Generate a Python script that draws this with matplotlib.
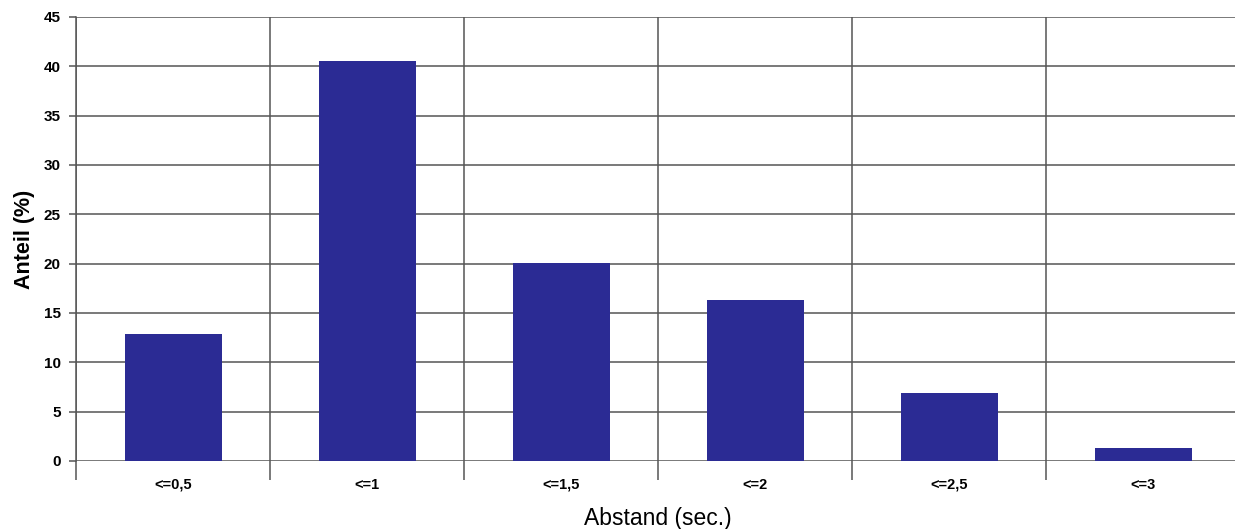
import numpy as np
import matplotlib.pyplot as plt

# Anteil je Abstandsklasse
categories = ["<=0,5", "<=1", "<=1,5", "<=2", "<=2,5", "<=3"]
anteil = [12.9, 40.5, 20.1, 16.3, 6.9, 1.3]
yticks = [0, 5, 10, 15, 20, 25, 30, 35, 40, 45]

plt.rcParams['font.family'] = ['Liberation Sans', 'DejaVu Sans']

fig = plt.figure(figsize=(12.35, 5.29), dpi=100)
ax = fig.add_axes([76 / 1235, 68 / 529, 1164 / 1235, 444 / 529])

x = np.arange(len(categories))
ax.bar(x, anteil, width=0.5, color="#2b2b94", zorder=3)

ax.set_xlim(-0.5, len(categories) - 0.5)
ax.set_ylim(0, 45)
ax.set_yticks(yticks)

# Gitter: horizontale Linien je 5 %, vertikale an den Klassengrenzen
ax.set_xticks(x)
ax.set_xticklabels(categories, fontsize=10.5, fontweight="bold")
ax.set_xticks(np.arange(len(categories) + 1) - 0.5, minor=True)
ax.tick_params(axis="x", which="major", length=0, pad=12)
ax.tick_params(axis="x", which="minor", length=14, width=1.1, color="#555555")
ax.tick_params(axis="y", length=5, width=1.1, color="#555555", pad=6, labelsize=11)
for lab in ax.get_yticklabels():
    lab.set_fontweight("bold")

ax.grid(True, axis="y", which="major", color="#555555", linewidth=1.1, zorder=1)
ax.grid(True, axis="x", which="minor", color="#555555", linewidth=1.1, zorder=1)

for side in ["top", "right", "bottom"]:
    ax.spines[side].set_visible(False)
ax.spines["left"].set_color("#555555")
ax.spines["left"].set_linewidth(1.1)

ax.set_ylabel("Anteil (%)", fontsize=15.5, fontweight="bold", labelpad=6)
ax.set_xlabel("Abstand (sec.)", fontsize=16.5, labelpad=11)

fig.savefig("out.png", dpi=100)
